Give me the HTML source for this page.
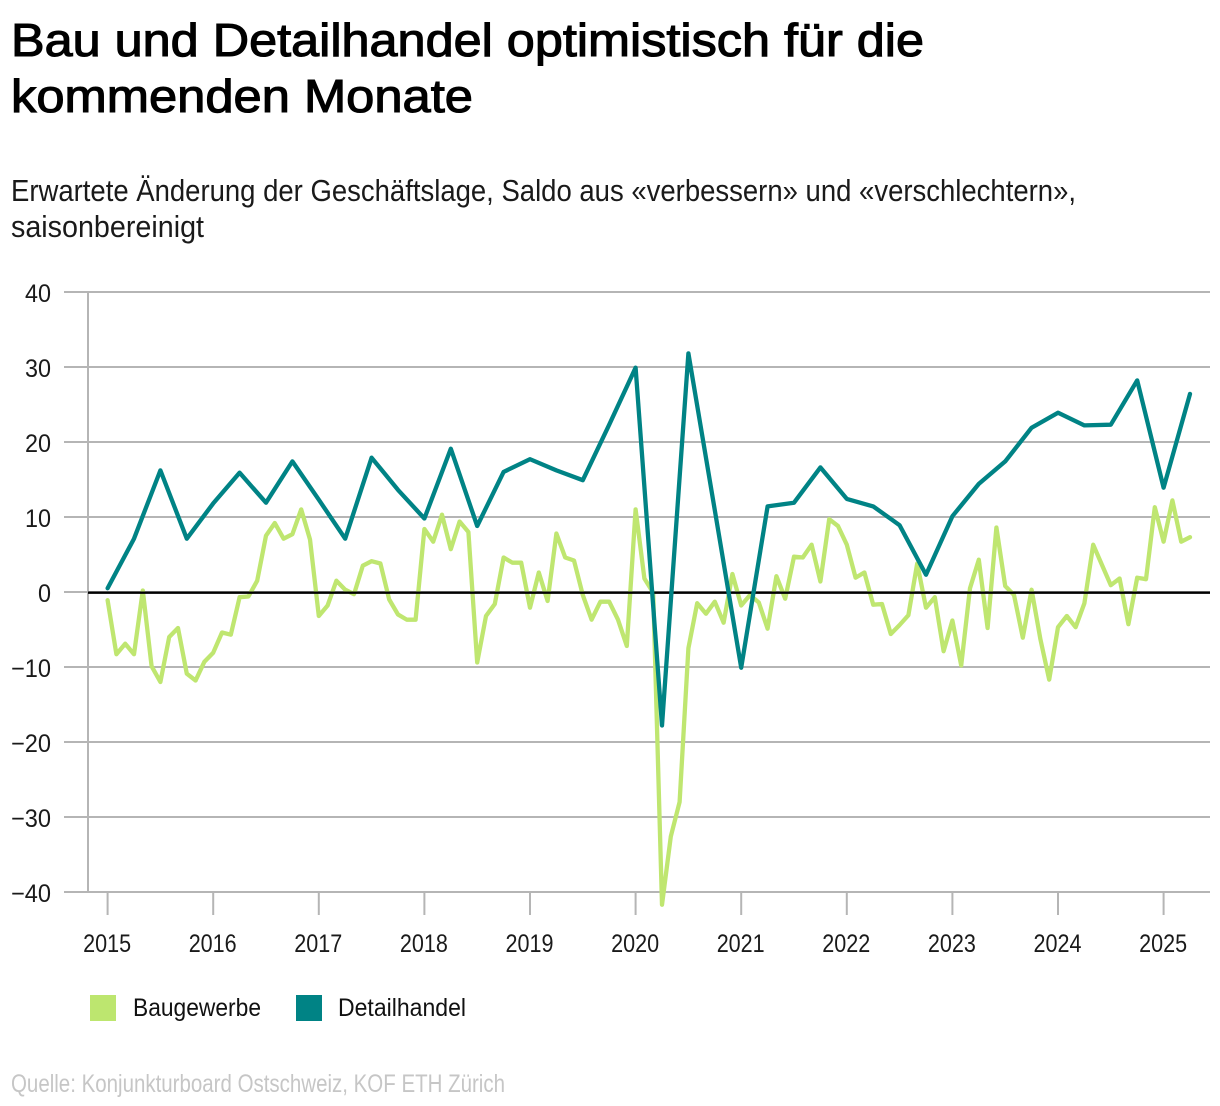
<!DOCTYPE html>
<html lang="de">
<head>
<meta charset="utf-8">
<title>Bau und Detailhandel optimistisch für die kommenden Monate</title>
<style>
html,body{margin:0;padding:0;background:#fff;}
body{width:1220px;height:1106px;overflow:hidden;}
svg{display:block;}
text{font-family:"Liberation Sans",sans-serif;fill:#111;}
.title{font-size:46px;font-weight:400;fill:#000;stroke:#000;stroke-width:1.1px;}
.sub{font-size:31px;fill:#1a1a1a;}
.tick{font-size:25px;fill:#1a1a1a;}
.leg{font-size:25px;fill:#111;}
.src{font-size:25px;fill:#c6c6c6;}
</style>
</head>
<body>
<svg id="chart" width="1220" height="1106" viewBox="0 0 1220 1106" xmlns="http://www.w3.org/2000/svg">
  <text class="title" x="11" y="56" textLength="913" lengthAdjust="spacingAndGlyphs">Bau und Detailhandel optimistisch für die</text>
  <text class="title" x="11" y="112" textLength="462" lengthAdjust="spacingAndGlyphs">kommenden Monate</text>
  <text class="sub" x="11" y="201" textLength="1065" lengthAdjust="spacingAndGlyphs">Erwartete Änderung der Geschäftslage, Saldo aus «verbessern» und «verschlechtern»,</text>
  <text class="sub" x="11" y="237" textLength="193" lengthAdjust="spacingAndGlyphs">saisonbereinigt</text>
  <g id="grid"></g>
  <g id="ylabels"></g>
  <g id="xaxis"></g>
  <g id="series"></g>
  <g>
    <rect x="90" y="995" width="26" height="26" fill="#bde66f"></rect>
    <text class="leg" x="133" y="1016" textLength="128" lengthAdjust="spacingAndGlyphs">Baugewerbe</text>
    <rect x="296" y="995" width="26" height="26" fill="#008385"></rect>
    <text class="leg" x="338" y="1016" textLength="128" lengthAdjust="spacingAndGlyphs">Detailhandel</text>
  </g>
  <text class="src" x="11" y="1092" textLength="494" lengthAdjust="spacingAndGlyphs">Quelle: Konjunkturboard Ostschweiz, KOF ETH Zürich</text>
</svg>
<script>
// Chart data
const yTicks = [40, 30, 20, 10, 0, -10, -20, -30, -40];
const yTickLabels = ['40', '30', '20', '10', '0', '−10', '−20', '−30', '−40'];
const xYears = ['2015', '2016', '2017', '2018', '2019', '2020', '2021', '2022', '2023', '2024', '2025'];
// Monthly, from January 2015
const baugewerbe = [
  -1.0, -8.2, -6.8, -8.2, 0.3, -9.8, -11.9, -5.9, -4.7, -10.8, -11.7, -9.2,
  -8.0, -5.3, -5.6, -0.6, -0.5, 1.6, 7.6, 9.3, 7.2, 7.8, 11.1, 7.1,
  -3.1, -1.7, 1.6, 0.4, -0.2, 3.6, 4.2, 3.9, -0.9, -2.9, -3.6, -3.6,
  8.5, 6.8, 10.4, 5.8, 9.5, 8.1, -9.3, -3.1, -1.5, 4.7, 4.0, 4.0,
  -2.0, 2.7, -1.1, 7.9, 4.7, 4.3, -0.3, -3.6, -1.2, -1.2, -3.6, -7.1,
  11.1, 1.9, 0.0, -41.6, -32.5, -27.9, -7.4, -1.4, -2.8, -1.2, -4.0, 2.5,
  -1.7, -0.3, -1.3, -4.8, 2.2, -0.8, 4.8, 4.7, 6.4, 1.5, 9.8, 8.9,
  6.4, 2.0, 2.7, -1.6, -1.5, -5.5, -4.3, -3.0, 3.9, -2.0, -0.6, -7.8,
  -3.7, -9.7, 0.6, 4.4, -4.7, 8.7, 0.9, -0.3, -6.0, 0.4, -6.2, -11.6,
  -4.6, -3.1, -4.6, -1.4, 6.4, 3.7, 1.0, 1.9, -4.2, 2.0, 1.8, 11.4,
  6.8, 12.3, 6.8, 7.4
];
// Quarterly, from Q1 2015
const detailhandel = [
  0.6, 7.2, 16.3, 7.2,
  11.9, 16.0, 12.0, 17.5,
  12.4, 7.2, 18.0, 13.7,
  9.9, 19.2, 8.9, 16.1,
  17.8, 16.3, 15.0, 22.4,
  30.0, -17.7, 31.9, 11.0,
  -10.0, 11.5, 12.0, 16.7,
  12.5, 11.5, 9.0, 2.4,
  10.2, 14.5, 17.5, 22.0,
  24.0, 22.3, 22.4, 28.3,
  14.0, 26.5
];

const NS = 'http://www.w3.org/2000/svg';
function xMonth(i) { return 107.6 + i * 8.8; }
function xYear(i) { return xMonth(i * 12); }
function yVal(v) { return 592 - v * 7.5; }
function ySeries(v) { return yVal(v) + 0.7; }
function make(tag, attrs, parent) {
  const el = document.createElementNS(NS, tag);
  for (const k in attrs) el.setAttribute(k, attrs[k]);
  parent.appendChild(el);
  return el;
}
const gridG = document.getElementById('grid');
const yLabG = document.getElementById('ylabels');
const xG = document.getElementById('xaxis');
const seriesG = document.getElementById('series');
const GRID = '#b5b5b5';

yTicks.forEach(function (v, i) {
  const line = make('line', { x1: 64, x2: 1210, y1: yVal(v), y2: yVal(v), stroke: GRID, 'stroke-width': 2 }, gridG);
  
  
  const label = make('text', { x: 51, y: yVal(v) + 10, class: 'tick', 'text-anchor': 'end' }, yLabG);
  
  
  const lab = yTickLabels[i];
  label.textContent = lab;
  const w = lab.length === 3 ? 40 : (lab.length === 2 ? 26 : 13);
  label.setAttribute('textLength', w);
  label.setAttribute('lengthAdjust', 'spacingAndGlyphs');
});

const yAxis = make('line', { x1: 88, x2: 88, y1: yVal(40), y2: yVal(-40), stroke: GRID, 'stroke-width': 2 }, xG);



xYears.forEach(function (lab, i) {
  const x = xYear(i);
  const t = make('line', { x1: x, x2: x, y1: 892, y2: 915, stroke: GRID, 'stroke-width': 2 }, xG);
  
  
  const label = make('text', { x: x - 0.5, y: 952, class: 'tick', 'text-anchor': 'middle', textLength: 48, lengthAdjust: 'spacingAndGlyphs' }, xG);
  
  
  label.textContent = lab;
});

const bauLine = make('polyline', {
  points: baugewerbe.map(function (v, i) { return xMonth(i).toFixed(1) + ',' + ySeries(v).toFixed(1); }).join(' '),
  fill: 'none', stroke: '#bfe670', 'stroke-width': 4.3, 'stroke-linejoin': 'round', 'stroke-linecap': 'round'
}, seriesG);



const zero = make('line', { x1: 88, x2: 1210, y1: ySeries(0), y2: ySeries(0), stroke: '#000', 'stroke-width': 2.3 }, seriesG);



const detLine = make('polyline', {
  points: detailhandel.map(function (v, i) { return xMonth(i * 3).toFixed(1) + ',' + ySeries(v).toFixed(1); }).join(' '),
  fill: 'none', stroke: '#008385', 'stroke-width': 4.3, 'stroke-linejoin': 'round', 'stroke-linecap': 'round'
}, seriesG);


</script>
</body>
</html>
